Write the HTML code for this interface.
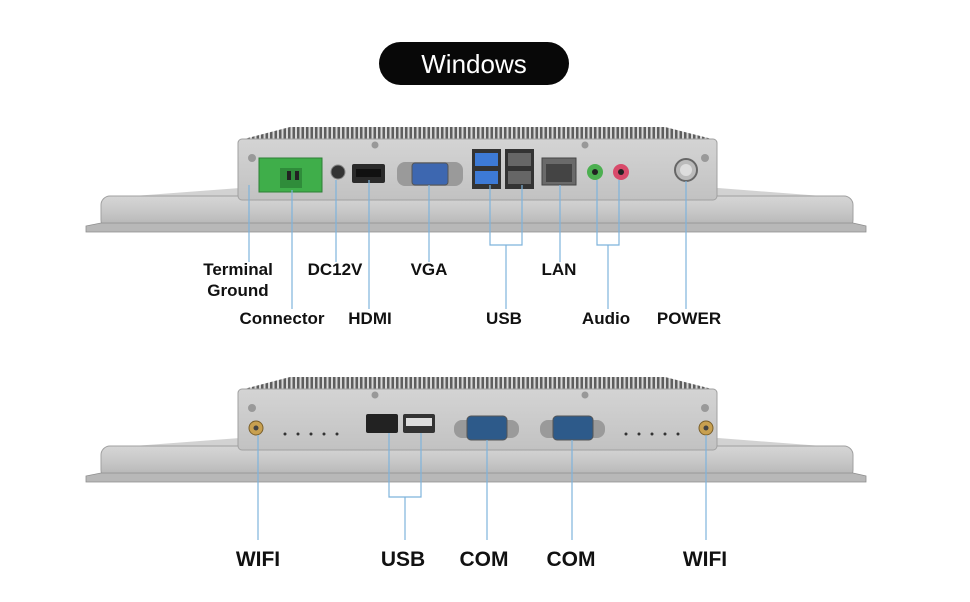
<!DOCTYPE html>
<html><head><meta charset="utf-8"><style>
html,body{margin:0;padding:0;background:#fff;}
svg{display:block;}
text{font-family:"Liberation Sans",sans-serif;font-weight:bold;fill:#111;}
</style></head><body>
<svg width="970" height="602" viewBox="0 0 970 602" xmlns="http://www.w3.org/2000/svg">
<defs>
<linearGradient id="face" x1="0" y1="0" x2="0" y2="1">
<stop offset="0" stop-color="#d6d6d6"/><stop offset="0.5" stop-color="#c6c6c6"/><stop offset="1" stop-color="#b2b2b2"/></linearGradient>
<linearGradient id="box" x1="0" y1="0" x2="0" y2="1">
<stop offset="0" stop-color="#d4d4d4"/><stop offset="1" stop-color="#c2c2c2"/></linearGradient>
<pattern id="fins" width="4.5" height="20" patternUnits="userSpaceOnUse">
<rect width="4.5" height="20" fill="#d8d8d8"/><rect x="0" width="2.5" height="20" fill="#5e5e5e"/></pattern>
<g id="chassis">
<polygon points="108,198 240,188 718,188 848,198" fill="#d2d2d2"/>
<rect x="101" y="196" width="752" height="33" rx="9" fill="url(#face)" stroke="#a0a0a0" stroke-width="1"/>
<polygon points="86,226 101,223 853,223 866,226 866,232 86,232" fill="#b8b8b8" stroke="#8f8f8f" stroke-width="0.8"/>
<polygon points="240,140 290,127 665,127 716,140" fill="url(#fins)"/>
<rect x="238" y="139" width="479" height="61" rx="4" fill="url(#box)" stroke="#a0a0a0"/>
<circle cx="252" cy="158" r="4" fill="#999"/><circle cx="705" cy="158" r="4" fill="#999"/>
<circle cx="375" cy="145" r="3.5" fill="#999"/><circle cx="585" cy="145" r="3.5" fill="#999"/>
</g>
</defs>

<rect x="379" y="42" width="190" height="43" rx="21.5" fill="#080808"/>
<text x="474" y="73" text-anchor="middle" style="font-weight:normal;font-size:26px;fill:#fff">Windows</text>

<use href="#chassis"/>
<rect x="259" y="158" width="63" height="34" fill="#3fae4a" stroke="#2c7f35"/>
<rect x="280" y="168" width="22" height="20" fill="#2f8c3a"/>
<rect x="287" y="171" width="4" height="9" fill="#222"/><rect x="295" y="171" width="4" height="9" fill="#222"/>
<circle cx="338" cy="172" r="7" fill="#333" stroke="#888"/>
<rect x="352" y="164" width="33" height="19" rx="2" fill="#2a2a2a"/>
<rect x="356" y="169" width="25" height="8" fill="#111"/>
<rect x="397" y="162" width="66" height="24" rx="8" fill="#9a9a9a"/>
<rect x="412" y="163" width="36" height="22" rx="3" fill="#3d67b0" stroke="#555"/>
<rect x="472" y="149" width="29" height="40" fill="#333"/>
<rect x="475" y="153" width="23" height="13" fill="#3d7ad6"/><rect x="475" y="171" width="23" height="13" fill="#3d7ad6"/>
<rect x="505" y="149" width="29" height="40" fill="#333"/>
<rect x="508" y="153" width="23" height="13" fill="#666"/><rect x="508" y="171" width="23" height="13" fill="#666"/>
<rect x="542" y="158" width="34" height="27" fill="#6a6a6a" stroke="#444"/>
<rect x="546" y="164" width="26" height="18" fill="#444"/>
<circle cx="595" cy="172" r="8" fill="#4caf50"/><circle cx="595" cy="172" r="3" fill="#222"/>
<circle cx="621" cy="172" r="8" fill="#d84a6a"/><circle cx="621" cy="172" r="3" fill="#222"/>
<circle cx="686" cy="170" r="11" fill="#bbb" stroke="#666" stroke-width="2"/>
<circle cx="686" cy="170" r="6" fill="#ddd"/>

<g stroke="#7eb3dc" stroke-width="1.2" fill="none">
<line x1="249" y1="185" x2="249" y2="262"/>
<line x1="292" y1="190" x2="292" y2="309"/>
<line x1="336" y1="180" x2="336" y2="262"/>
<line x1="369" y1="180" x2="369" y2="309"/>
<line x1="429" y1="185" x2="429" y2="262"/>
<polyline points="490,185 490,245 522,245 522,185"/>
<line x1="506" y1="245" x2="506" y2="309"/>
<line x1="560" y1="185" x2="560" y2="262"/>
<polyline points="597,180 597,245 619,245 619,180"/>
<line x1="608" y1="245" x2="608" y2="309"/>
<line x1="686" y1="181" x2="686" y2="309"/>
</g>
<g style="font-size:17px">
<text x="238" y="275" text-anchor="middle">Terminal</text>
<text x="238" y="296" text-anchor="middle">Ground</text>
<text x="282" y="324" text-anchor="middle">Connector</text>
<text x="335" y="275" text-anchor="middle">DC12V</text>
<text x="370" y="324" text-anchor="middle">HDMI</text>
<text x="429" y="275" text-anchor="middle">VGA</text>
<text x="504" y="324" text-anchor="middle">USB</text>
<text x="559" y="275" text-anchor="middle">LAN</text>
<text x="606" y="324" text-anchor="middle">Audio</text>
<text x="689" y="324" text-anchor="middle">POWER</text>
</g>

<use href="#chassis" y="250"/>
<circle cx="256" cy="428" r="7" fill="#c8a050" stroke="#7a5f2a"/><circle cx="256" cy="428" r="2.5" fill="#444"/>
<circle cx="706" cy="428" r="7" fill="#c8a050" stroke="#7a5f2a"/><circle cx="706" cy="428" r="2.5" fill="#444"/>
<g fill="#333"><circle cx="285" cy="434" r="1.5"/><circle cx="298" cy="434" r="1.5"/><circle cx="311" cy="434" r="1.5"/><circle cx="324" cy="434" r="1.5"/><circle cx="337" cy="434" r="1.5"/>
<circle cx="626" cy="434" r="1.5"/><circle cx="639" cy="434" r="1.5"/><circle cx="652" cy="434" r="1.5"/><circle cx="665" cy="434" r="1.5"/><circle cx="678" cy="434" r="1.5"/></g>
<rect x="366" y="414" width="32" height="19" rx="2" fill="#222"/>
<rect x="403" y="414" width="32" height="19" rx="2" fill="#333"/><rect x="406" y="418" width="26" height="8" fill="#ddd"/>
<rect x="454" y="420" width="65" height="18" rx="8" fill="#9a9a9a"/>
<rect x="467" y="416" width="40" height="24" rx="4" fill="#2d5a8a" stroke="#555"/>
<rect x="540" y="420" width="65" height="18" rx="8" fill="#9a9a9a"/>
<rect x="553" y="416" width="40" height="24" rx="4" fill="#2d5a8a" stroke="#555"/>
<g stroke="#7eb3dc" stroke-width="1.2" fill="none">
<line x1="258" y1="435" x2="258" y2="540"/>
<polyline points="389,433 389,497 421,497 421,433"/>
<line x1="405" y1="497" x2="405" y2="540"/>
<line x1="487" y1="440" x2="487" y2="540"/>
<line x1="572" y1="440" x2="572" y2="540"/>
<line x1="706" y1="435" x2="706" y2="540"/>
</g>
<g style="font-size:21px">
<text x="258" y="566" text-anchor="middle">WIFI</text>
<text x="403" y="566" text-anchor="middle">USB</text>
<text x="484" y="566" text-anchor="middle">COM</text>
<text x="571" y="566" text-anchor="middle">COM</text>
<text x="705" y="566" text-anchor="middle">WIFI</text>
</g>
</svg>
</body></html>
